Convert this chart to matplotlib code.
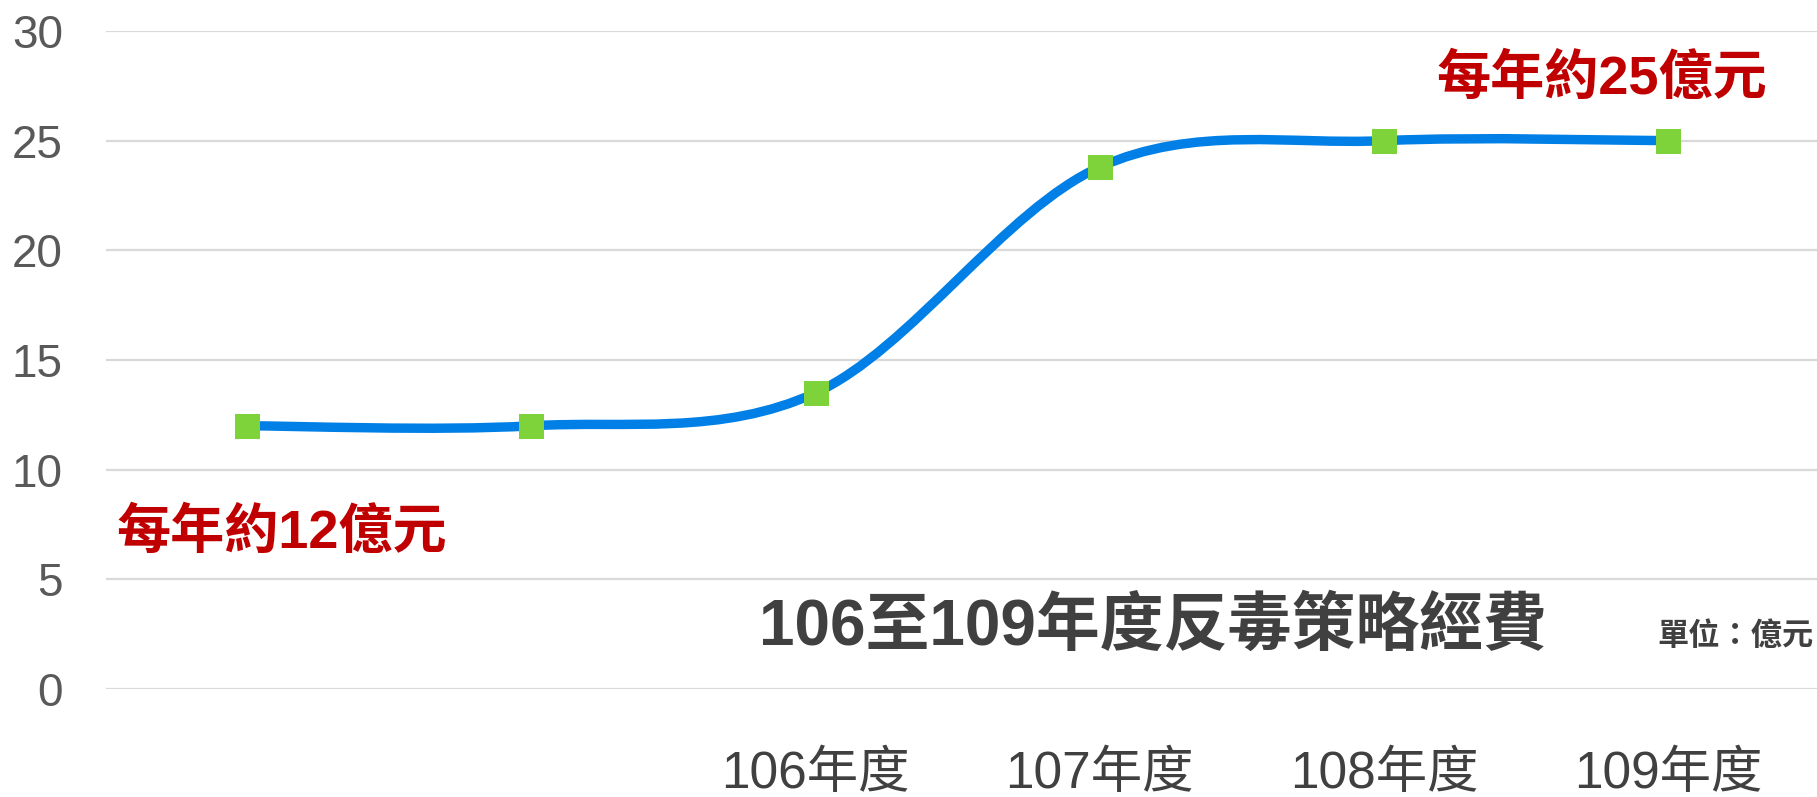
import matplotlib
matplotlib.use("Agg")
import matplotlib.pyplot as plt
import numpy as np
from matplotlib.path import Path
from matplotlib.patches import PathPatch

plt.rcParams["font.family"] = ["Liberation Sans", "Noto Sans CJK TC"]

# data (億元)
categories = ["", "", "106年度", "107年度", "108年度", "109年度"]
funding = [12.0, 12.0, 13.5, 23.8, 25.0, 25.0]
yticks = [0, 5, 10, 15, 20, 25, 30]

title = "106至109年度反毒策略經費"
unit_label = "單位：億元"
note_low = "每年約12億元"
note_high = "每年約25億元"

LINE = "#0080E6"
MARK = "#7ED23A"
RED = "#C00000"
GRID = "#D9D9D9"

fig = plt.figure(figsize=(18.17, 7.97), dpi=100)
ax = fig.add_axes([106 / 1817, 108 / 797, 1 - 106 / 1817, (689 - 31) / 797])

x = np.arange(len(funding), dtype=float)
y = np.array(funding)

# smoothed line (Catmull-Rom style bezier, like a spreadsheet "smooth line")
verts = [(x[0], y[0])]
codes = [Path.MOVETO]
n = len(x)
for i in range(n - 1):
    p0 = np.array([x[max(i - 1, 0)], y[max(i - 1, 0)]])
    p1 = np.array([x[i], y[i]])
    p2 = np.array([x[i + 1], y[i + 1]])
    p3 = np.array([x[min(i + 2, n - 1)], y[min(i + 2, n - 1)]])
    c1 = p1 + (p2 - p0) / 6
    c2 = p2 - (p3 - p1) / 6
    verts += [tuple(c1), tuple(c2), tuple(p2)]
    codes += [Path.CURVE4] * 3
ax.add_patch(PathPatch(Path(verts, codes), facecolor="none", edgecolor=LINE,
                       linewidth=6.8, capstyle="round", zorder=3))
ax.plot(x, y, linestyle="none", marker="s", markersize=18, color=MARK,
        markeredgewidth=0, zorder=4)

# gridlines run a little past the last category, to the figure edge
ax.set_xlim(-0.496, n - 0.477)
ax.set_ylim(0, 30)
ax.set_yticks(yticks)
ax.set_xticks(x)
ax.set_xticklabels(categories)
ax.yaxis.grid(True, color=GRID, linewidth=1.6)
ax.set_axisbelow(True)
for s in ax.spines.values():
    s.set_visible(False)
ax.tick_params(axis="y", length=0, pad=31, labelsize=33, labelcolor="#595959")
ax.tick_params(axis="x", length=0, pad=44, labelsize=37, labelcolor="#404040")

fig.text(116 / 1817, 1 - 533 / 797, note_low, color=RED, fontsize=39,
         fontweight="bold", ha="left", va="center")
fig.text(1767 / 1817, 1 - 79 / 797, note_high, color=RED, fontsize=39,
         fontweight="bold", ha="right", va="center")
fig.text(1153 / 1817, 1 - 627 / 797, title, color="#404040", fontsize=46,
         fontweight="bold", ha="center", va="center")
fig.text(1814 / 1817, 1 - 637 / 797, unit_label, color="#404040", fontsize=22.5,
         fontweight="bold", ha="right", va="center")

fig.savefig("out.png", dpi=100)
